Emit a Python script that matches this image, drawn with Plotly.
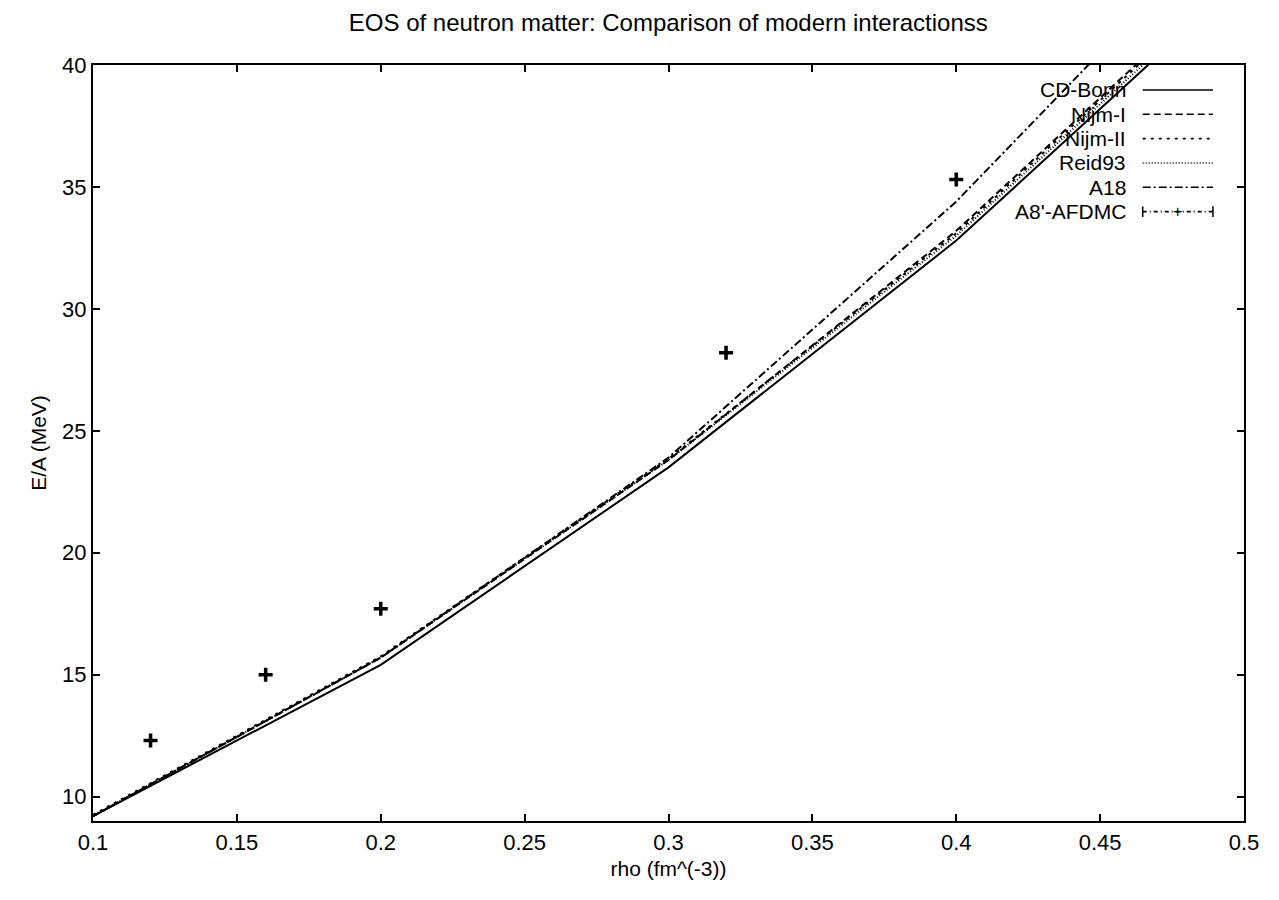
import plotly.graph_objects as go

# ---- data ----
rho = [0.1, 0.2, 0.3, 0.4, 0.5]
cd_bonn = [9.2, 15.4, 23.5, 32.8, 43.6]
nijm1 = [9.2, 15.7, 23.8, 33.2, 44.1]
nijm2 = [9.25, 15.75, 23.85, 33.1, 44.0]
reid93 = [9.2, 15.7, 23.8, 33.0, 43.8]
a18 = [9.2, 15.7, 23.9, 34.4, 46.6]

afdmc_rho = [0.12, 0.16, 0.2, 0.32, 0.4]
afdmc_e = [12.3, 15.0, 17.7, 28.2, 35.3]

x_ticks = [0.1, 0.15, 0.2, 0.25, 0.3, 0.35, 0.4, 0.45, 0.5]
x_tick_labels = ["0.1", "0.15", "0.2", "0.25", "0.3", "0.35", "0.4", "0.45", "0.5"]
y_ticks = [10, 15, 20, 25, 30, 35, 40]
y_tick_labels = ["10", "15", "20", "25", "30", "35", "40"]

series = [
    ("CD-Bonn", cd_bonn, "solid"),
    ("Nijm-I", nijm1, "7px,4px"),
    ("Nijm-II", nijm2, "3px,5px"),
    ("Reid93", reid93, "1px,2px"),
    ("A18", a18, "8px,3px,2px,3px"),
]

FONT = "Liberation Sans, Arial, Helvetica, sans-serif"

fig = go.Figure()
for name, vals, dash in series:
    fig.add_trace(go.Scatter(x=rho, y=vals, mode="lines", name=name,
                             line=dict(color="black", width=2, dash=dash),
                             showlegend=False))

fig.add_trace(go.Scatter(x=afdmc_rho, y=afdmc_e, mode="markers", name="A8'-AFDMC",
                         marker=dict(symbol="cross-thin", size=10, color="black",
                                     line=dict(color="black", width=3.5)),
                         showlegend=False))

# ---- gnuplot style legend (text left of sample) ----
legend_names = [s[0] for s in series] + ["A8'-AFDMC"]
legend_dash = [s[2] for s in series] + ["4px,3px,1px,3px"]
row0 = 0.967
row_step = 0.0322
x_text = 0.898
x_s0 = 0.912
x_s1 = 0.973
for i, (nm, ds) in enumerate(zip(legend_names, legend_dash)):
    yy = row0 - i * row_step
    fig.add_annotation(xref="paper", yref="paper", x=x_text, y=yy, text=nm,
                       showarrow=False, xanchor="right", yanchor="middle",
                       borderpad=0,
                       font=dict(family=FONT, size=21, color="black"))
    fig.add_shape(type="line", xref="paper", yref="paper", x0=x_s0, x1=x_s1,
                  y0=yy, y1=yy, line=dict(color="black", width=1.6, dash=ds))
    if nm == "A8'-AFDMC":
        fig.add_annotation(xref="paper", yref="paper", x=(x_s0 + x_s1) / 2, y=yy,
                           text="+", showarrow=False, xanchor="center", yanchor="middle",
                           borderpad=0,
                           font=dict(family=FONT, size=16, color="black"))
        for xe in (x_s0, x_s1):
            fig.add_shape(type="line", xref="paper", yref="paper", x0=xe, x1=xe,
                          y0=yy - 0.007, y1=yy + 0.007,
                          line=dict(color="black", width=1.5))

fig.update_layout(
    width=1279, height=900,
    margin=dict(l=93, r=35, t=65, b=79),
    paper_bgcolor="white", plot_bgcolor="white",
    font=dict(family=FONT, size=22, color="black"),
    title=dict(text="EOS of neutron matter: Comparison of modern interactionss",
               x=0.5225, xanchor="center", y=0.975, yanchor="middle",
               font=dict(family=FONT, size=24, color="black")),
    showlegend=False,
)
fig.update_xaxes(range=[0.1, 0.5], tickvals=x_ticks, ticktext=x_tick_labels,
                 ticks="inside", ticklen=7, tickwidth=1.8, tickcolor="black",
                 showline=True, linecolor="black", linewidth=2.2, mirror="ticks",
                 showgrid=False, zeroline=False,
                 title=dict(text="rho (fm^(-3))", font=dict(family=FONT, size=21), standoff=8),
                 tickfont=dict(family=FONT, size=22))
fig.update_yaxes(range=[9, 40], tickvals=y_ticks, ticktext=y_tick_labels,
                 ticks="inside", ticklen=7, tickwidth=1.8, tickcolor="black",
                 showline=True, linecolor="black", linewidth=2.2, mirror="ticks",
                 showgrid=False, zeroline=False,
                 title=dict(text="E/A (MeV)", font=dict(family=FONT, size=21), standoff=10),
                 tickfont=dict(family=FONT, size=22))

fig.write_html("out.html")
